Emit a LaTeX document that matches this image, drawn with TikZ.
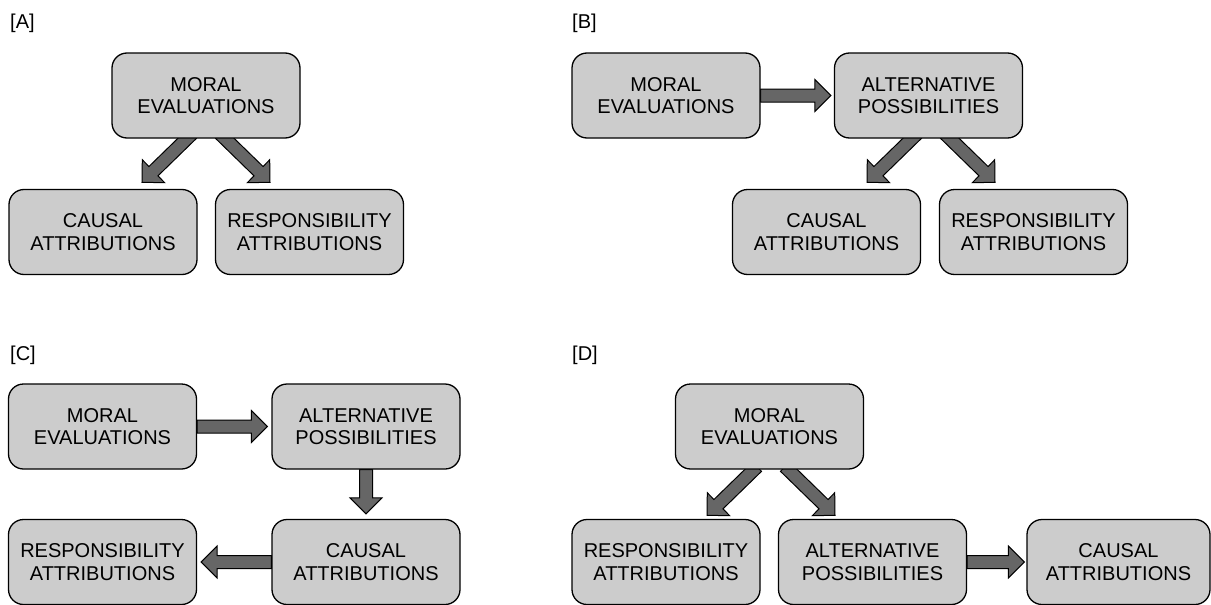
\documentclass[tikz,border=0pt]{standalone}
\usepackage{fontspec}
\setmainfont{Liberation Sans}
\usetikzlibrary{calc,backgrounds}

\begin{document}
\begin{tikzpicture}[x=1pt,y=-1pt]
		\tikzstyle{box}=[draw=black, line width=1.3pt, fill=black!20, rounded corners=15pt, minimum width=188pt, minimum height=85pt, inner sep=0pt, align=center, font=\fontsize{20}{22.5}\selectfont]
		\tikzstyle{panel}=[anchor=west, inner sep=0pt, font=\fontsize{20}{24}\selectfont]
		\tikzstyle{fat}=[draw=black, line width=1pt, fill=black!60, line join=miter,
			to path={
				($(\tikztotarget)!16pt!(\tikztostart)$) coordinate (bh)
				($(\tikztostart)!6.5pt!90:(\tikztotarget)$)
				-- ($(bh)!6.5pt!-90:(\tikztostart)$) -- ($(bh)!16pt!-90:(\tikztostart)$)
				-- (\tikztotarget)
				-- ($(bh)!16pt!90:(\tikztostart)$) -- ($(bh)!6.5pt!90:(\tikztostart)$)
				-- ($(\tikztostart)!6.5pt!-90:(\tikztotarget)$) -- cycle}]

		\useasboundingbox (0,0) rectangle (1211,605);

		\begin{scope}
			\node [panel] (labA) at (10,23) {[A]};
			\node [box] (moralA) at (206,95.5) {MORAL\\EVALUATIONS};
			\node [box] (causalA) at (103,232) {CAUSAL\\ATTRIBUTIONS};
			\node [box] (respA) at (309.5,232) {RESPONSIBILITY\\ATTRIBUTIONS};

			\begin{scope}[on background layer]
				\draw [fat] ([xshift=-14pt,yshift=5pt]moralA.south) to ([xshift=39pt,yshift=6.5pt]causalA.north);
				\draw [fat] ([xshift=14pt,yshift=5pt]moralA.south) to ([xshift=-39.5pt,yshift=6.5pt]respA.north);
			\end{scope}
		\end{scope}

		\begin{scope}
			\node [panel] (labB) at (572,23) {[B]};
			\node [box] (moralB) at (666,95.5) {MORAL\\EVALUATIONS};
			\node [box] (altB) at (928.5,95.5) {ALTERNATIVE\\POSSIBILITIES};
			\node [box] (causalB) at (826.5,232) {CAUSAL\\ATTRIBUTIONS};
			\node [box] (respB) at (1033.5,232) {RESPONSIBILITY\\ATTRIBUTIONS};

			\begin{scope}[on background layer]
				\draw [fat] (moralB.east) to ([xshift=-3pt]altB.west);
				\draw [fat] ([xshift=-11.5pt,yshift=5pt]altB.south) to ([xshift=40.5pt,yshift=6.5pt]causalB.north);
				\draw [fat] ([xshift=16.5pt,yshift=5pt]altB.south) to ([xshift=-38.5pt,yshift=6.5pt]respB.north);
			\end{scope}
		\end{scope}

		\begin{scope}
			\node [panel] (labC) at (10,355.5) {[C]};
			\node [box] (moralC) at (102.5,426.5) {MORAL\\EVALUATIONS};
			\node [box] (altC) at (366,426.5) {ALTERNATIVE\\POSSIBILITIES};
			\node [box] (causalC) at (366,562) {CAUSAL\\ATTRIBUTIONS};
			\node [box] (respC) at (102.5,562) {RESPONSIBILITY\\ATTRIBUTIONS};

			\begin{scope}[on background layer]
				\draw [fat] (moralC.east) to ([xshift=-4pt]altC.west);
				\draw [fat] (altC.south) to ([yshift=5pt]causalC.north);
				\draw [fat] (causalC.west) to ([xshift=4pt]respC.east);
			\end{scope}
		\end{scope}

		\begin{scope}
			\node [panel] (labD) at (572,355.5) {[D]};
			\node [box] (moralD) at (769.5,426.5) {MORAL\\EVALUATIONS};
			\node [box] (respD) at (666,562) {RESPONSIBILITY\\ATTRIBUTIONS};
			\node [box] (altD) at (872.5,562) {ALTERNATIVE\\POSSIBILITIES};
			\node [box, minimum width=183pt] (causalD) at (1118.5,562) {CAUSAL\\ATTRIBUTIONS};

			\begin{scope}[on background layer]
				\draw [fat] ([xshift=-12.5pt,yshift=3pt]moralD.south) to ([xshift=41pt,yshift=3.5pt]respD.north);
				\draw [fat] ([xshift=15.5pt,yshift=3pt]moralD.south) to ([xshift=-37.5pt,yshift=3.5pt]altD.north);
				\draw [fat] (altD.east) to ([xshift=-2pt]causalD.west);
			\end{scope}
		\end{scope}

	\end{tikzpicture}
\end{document}
